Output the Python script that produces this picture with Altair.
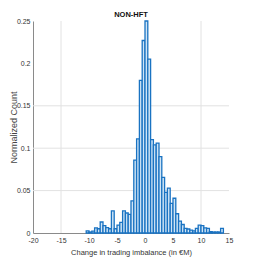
import altair as alt
import pandas as pd

# bin left edges (bin width 0.5) and normalized counts
bin_start = [-10.5, -10.0, -9.5, -9.0, -8.5, -8.0, -7.5, -7.0, -6.5, -6.0,
             -5.5, -5.0, -4.5, -4.0, -3.5, -3.0, -2.5, -2.0, -1.5, -1.0,
             -0.5, 0.0, 0.5, 1.0, 1.5, 2.0, 2.5, 3.0, 3.5, 4.0,
             4.5, 5.0, 5.5, 6.0, 6.5, 7.0, 7.5, 8.0, 8.5, 9.0,
             9.5, 10.0, 10.5, 11.0, 11.5, 12.0, 12.5, 13.0, 13.5]
counts = [0.0025, 0.0012, 0.0022, 0.006, 0.005, 0.013, 0.0086, 0.0063, 0.005, 0.026,
          0.005, 0.0094, 0.0125, 0.026, 0.0236, 0.022, 0.038, 0.086, 0.111, 0.18,
          0.227, 0.25, 0.205, 0.11, 0.104, 0.106, 0.09, 0.0655, 0.048, 0.053,
          0.035, 0.041, 0.0227, 0.014, 0.010, 0.0055, 0.0047, 0.0035, 0.0024, 0.0055,
          0.0094, 0.0086, 0.006, 0.0055, 0.0016, 0.0012, 0.0012, 0.0012, 0.0055]
bin_width = 0.5

x_ticks = [-20, -15, -10, -5, 0, 5, 10, 15]
y_ticks = [0, 0.05, 0.1, 0.15, 0.2, 0.25]
grid_x = [-15, 10]
grid_y = [0.05, 0.1, 0.15]

df = pd.DataFrame({"start": bin_start, "count": counts})
df["end"] = df["start"] + bin_width

FONT = "Liberation Sans, Arial, sans-serif"
xscale = alt.Scale(domain=[-20, 15], nice=False, zero=False)
yscale = alt.Scale(domain=[0, 0.25], nice=False)

xaxis = alt.Axis(values=x_ticks, labelExpr="'' + datum.value",
                 title="Change in trading imbalance (in €M)",
                 grid=False, ticks=False, domainColor="#8a8a8a",
                 labelFlush=False,
                 labelColor="#333333", titleColor="#333333",
                 labelFont=FONT, titleFont=FONT,
                 labelFontSize=7, titleFontSize=7.5,
                 titleFontWeight="normal", labelPadding=3, titlePadding=5)
yaxis = alt.Axis(values=y_ticks, format="~g",
                 title="Normalized Count",
                 grid=False, ticks=False, domainColor="#8a8a8a",
                 labelColor="#333333", titleColor="#444444",
                 labelFont=FONT, titleFont=FONT,
                 labelFontSize=7, titleFontSize=9,
                 titleFontWeight="normal", labelPadding=3,
                 titleX=-20, titleY=106, titleAngle=270,
                 titleBaseline="middle", titleAlign="center")

vgrid = alt.Chart(pd.DataFrame({"gx": grid_x})).mark_rule(
    color="#e2e2e2", strokeWidth=1
).encode(x=alt.X("gx:Q", scale=xscale, axis=xaxis))

hgrid = alt.Chart(pd.DataFrame({"gy": grid_y})).mark_rule(
    color="#e2e2e2", strokeWidth=1
).encode(y=alt.Y("gy:Q", scale=yscale, axis=yaxis))

bars = alt.Chart(df).mark_bar(
    fill="#d0e5f6", stroke="#1a73c2", strokeWidth=1.3
).encode(
    x=alt.X("start:Q", scale=xscale, axis=xaxis),
    x2="end:Q",
    y=alt.Y("count:Q", scale=yscale, axis=yaxis),
    y2=alt.datum(0),
)

chart = alt.layer(vgrid, hgrid, bars).properties(
    width=196, height=212,
    title=alt.TitleParams("NON-HFT", font=FONT, fontSize=7.5, fontWeight="bold",
                          color="#111111", offset=0, dy=1),
    autosize=alt.AutoSizeParams(type="none"),
    padding={"left": 25, "top": 13, "right": 10, "bottom": 26},
).configure_view(stroke=None)

chart.save("out.html", embed_options={"renderer": "svg", "actions": False})
